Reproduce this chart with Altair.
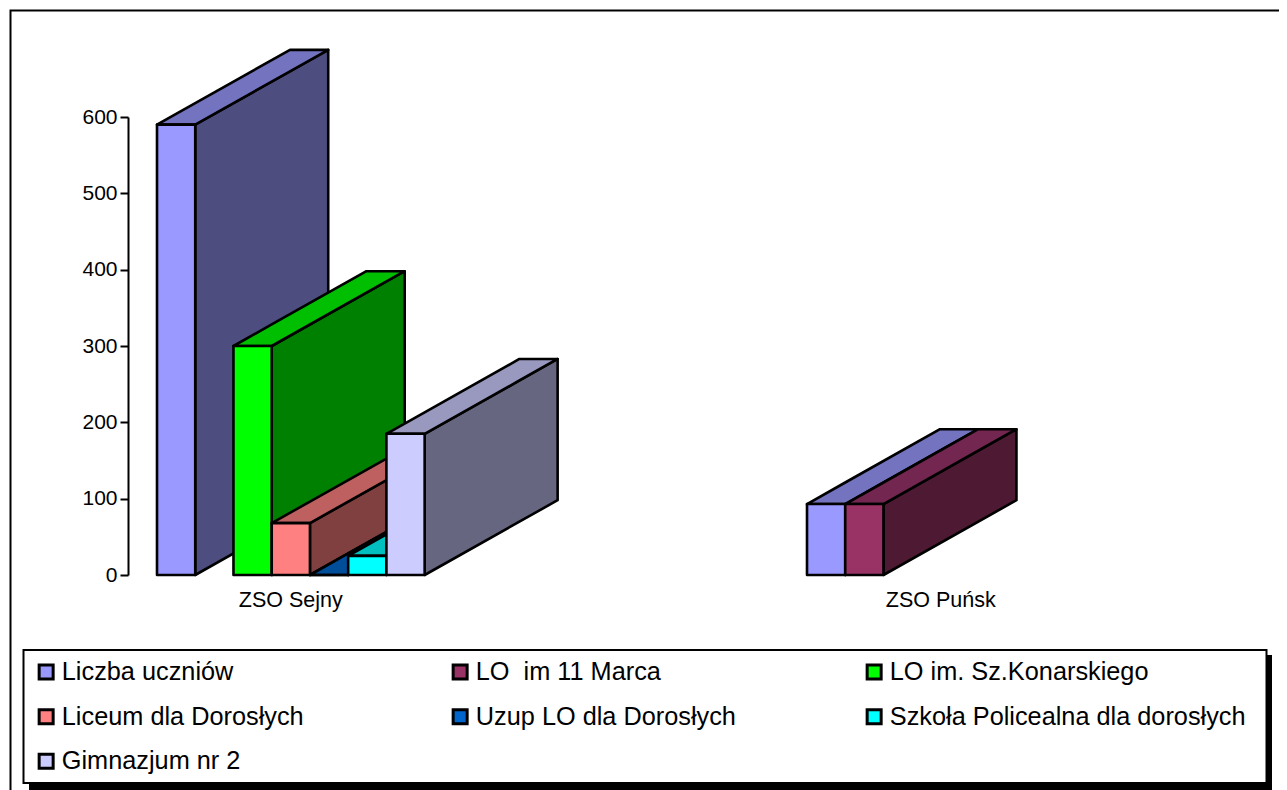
import altair as alt

categories = ["ZSO Sejny", "ZSO Puńsk"]
series = ["Liczba uczniów", "LO\u00a0 im 11 Marca", "LO im. Sz.Konarskiego", "Liceum dla Dorosłych",
          "Uzup LO dla Dorosłych", "Szkoła Policealna dla dorosłych", "Gimnazjum nr 2"]
sejny_values = [590, None, 300, 68, 0, 25, 185]
punsk_values = [93, 93, None, None, None, None, None]
front_colors = ["#9999FF", "#993366", "#00FF00", "#FF8080", "#0066CC", "#00FFFF", "#CCCCFF"]
top_colors = ["#7373BF", "#732650", "#00BF00", "#BF6060", "#004D99", "#00BFBF", "#9999BF"]
side_colors = ["#4D4D80", "#4D1933", "#008000", "#804040", "#003366", "#008080", "#666680"]
y_ticks = [0, 100, 200, 300, 400, 500, 600]

FONT = "Liberation Sans"
W, H = 1271, 782
GROUP_SLOTS = 17          # distance between category groups, in bar widths
DX = 3.478                # depth of the extrusion, in bar widths
DY = 98.0                 # depth of the extrusion, in value units
SW = 2.6

x_scale = alt.Scale(domain=[0, GROUP_SLOTS], range=[149, 799], clamp=False, nice=False, zero=False)
y_scale = alt.Scale(domain=[0, 600], range=[567, 109], clamp=False, nice=False, zero=False)
color = alt.Color(
    "s:N",
    scale=alt.Scale(domain=series, range=front_colors),
    legend=alt.Legend(
        title=None, orient="none", legendX=25.5, legendY=651.3, columns=3, direction="horizontal",
        padding=0, gridAlign="all", columnPadding=28, rowPadding=17.7, symbolType="square",
        symbolSize=196, symbolStrokeColor="black", symbolStrokeWidth=3, labelFont=FONT,
        labelFontSize=25.3, labelColor="black", labelOffset=3, labelLimit=500, symbolOpacity=1,
    ),
)

y_axis = alt.Axis(
    values=y_ticks, title=None, grid=False, orient="left", offset=-120, tickSize=8, tickWidth=2,
    tickColor="black", domainWidth=2, domainColor="black", labelFont=FONT, labelFontSize=21,
    labelColor="black", labelPadding=3, labelFlush=False, labelOverlap=False, zindex=5,
)


def X():
    return alt.X("x:Q", scale=x_scale, axis=None)


def Y():
    return alt.Y("y:Q", scale=y_scale, axis=y_axis)


blank = alt.Data(values=[{}])
layers = [
    # chart frame, legend box shadow, legend box
    alt.Chart(blank).mark_rect(fill="white", stroke="black", strokeWidth=2).encode(
        x=alt.value(2.5), x2=alt.value(1400), y=alt.value(2.5), y2=alt.value(900)),
    alt.Chart(blank).mark_rect(fill="black").encode(
        x=alt.value(21), x2=alt.value(1264), y=alt.value(647), y2=alt.value(782)),
    alt.Chart(blank).mark_rect(fill="white", stroke="black", strokeWidth=2).encode(
        x=alt.value(15.5), x2=alt.value(1258.5), y=alt.value(642), y2=alt.value(775)),
]

for g, vals in enumerate([sejny_values, punsk_values]):
    for k, v in enumerate(vals):
        if v is None:
            continue
        x0 = g * GROUP_SLOTS + k
        x1 = x0 + 1
        side = [
            {"x": x1, "y": 0, "y2": v},
            {"x": x1 + DX, "y": DY, "y2": v + DY},
        ]
        top = [
            {"x": x0, "y": v, "y2": v},
            {"x": x1, "y": v, "y2": v + DY / DX},
            {"x": x0 + DX, "y": v + DY * (DX - 1) / DX, "y2": v + DY},
            {"x": x1 + DX, "y": v + DY, "y2": v + DY},
        ]
        front = [{"x": x0, "x2": x1, "y": 0, "y2": v, "s": series[k]}]
        layers.append(alt.Chart(alt.Data(values=side)).mark_area(
            stroke="black", strokeWidth=SW, strokeJoin="round", fill=side_colors[k], opacity=1
        ).encode(x=X(), y=Y(), y2="y2:Q"))
        layers.append(alt.Chart(alt.Data(values=top)).mark_area(
            stroke="black", strokeWidth=SW, strokeJoin="round", fill=top_colors[k], opacity=1
        ).encode(x=X(), y=Y(), y2="y2:Q"))
        layers.append(alt.Chart(alt.Data(values=front)).mark_rect(
            stroke="black", strokeWidth=SW, strokeJoin="round", opacity=1
        ).encode(x=X(), x2="x2:Q", y=Y(), y2="y2:Q", color=color))

# category labels
cat_rows = [{"x": i * GROUP_SLOTS + 3.5, "t": c} for i, c in enumerate(categories)]
layers.append(alt.Chart(alt.Data(values=cat_rows)).mark_text(
    font=FONT, fontSize=21.5, color="black", baseline="middle", align="center"
).encode(x=X(), y=alt.value(593), text="t:N"))

# make sure every series is in the legend
legend_rows = [{"s": s} for s in series]
layers.append(alt.Chart(alt.Data(values=legend_rows)).mark_rect(
    opacity=0, stroke="black", strokeWidth=2
).encode(x=alt.value(-50), x2=alt.value(-40), y=alt.value(-50), y2=alt.value(-40), color=color))

chart = alt.layer(*layers).properties(
    width=W, height=H, padding=0, autosize=alt.AutoSizeParams(type="none")
).configure_view(stroke=None)

chart.save("out.html", embed_options={"renderer": "svg", "actions": False})
